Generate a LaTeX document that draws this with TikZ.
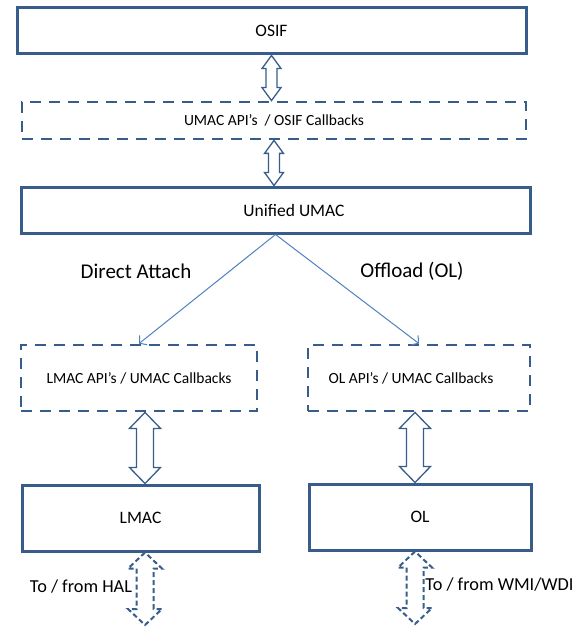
\documentclass[tikz,border=0pt]{standalone}
\usepackage{fontspec}
\setmainfont{Carlito}
\usepackage{tikz}
\usetikzlibrary{positioning,arrows.meta,calc}
\definecolor{boxblue}{RGB}{56,93,138}
\definecolor{linkblue}{RGB}{79,129,189}
\tikzset{>={Straight Barb[length=5pt,width=12pt]}}
\tikzset{layer/.style={draw=boxblue, line width=3pt, inner sep=0pt,
			font=\fontsize{17.5}{20}\selectfont}}
\tikzset{iface/.style={draw=boxblue, line width=2.8pt, inner sep=0pt,
			dash pattern=on 11pt off 8pt, font=\fontsize{15.5}{18}\selectfont}}
\tikzset{pipe/.style={draw=boxblue, line width=1.3pt, fill=white}}
\tikzset{wire/.style={draw=boxblue, line width=2pt, dash pattern=on 5pt off 3pt}}
% top tip, bottom tip, half shaft, half head, head length
\newcommand{\dblarrow}[6][pipe]{%
	\draw[#1] (#2) -- ++(-#5,#6) -- ++(#5-#4,0) -- ($(#3)+(-#4,-#6)$) -- ++(#4-#5,0)
	-- (#3) -- ++(#5,-#6) -- ++(#4-#5,0) -- ($(#2)+(#4,#6)$) -- ++(#5-#4,0) -- cycle;}

\begin{document}
\begin{tikzpicture}[x=1pt,y=-1pt]
		\useasboundingbox (0,0) rectangle (582,639);
		
		\node[layer, minimum width=509pt, minimum height=46pt] (osif) at (271.5,31) {OSIF};
		\node[iface, minimum width=504pt, minimum height=37pt] (umacapi) at (274,120.5) {UMAC API’s~~/ OSIF Callbacks};
		\node[layer, minimum width=509pt, minimum height=46pt] (umac) at (275.5,210) {\hspace*{37pt}Unified UMAC};
		
		\node[iface, minimum width=236pt, minimum height=66pt] (lmacapi) at (139,378) {LMAC API’s / UMAC Callbacks};
		\node[iface, minimum width=222pt, minimum height=66pt] (olapi) at (419,378) {\hspace*{-16pt}OL API’s / UMAC Callbacks};
		\node[layer, minimum width=237pt, minimum height=66pt] (lmac) at (140.5,518) {LMAC};
		\node[layer, minimum width=222pt, minimum height=66pt] (ol) at (420,517) {OL};
		
		\node[font=\fontsize{21}{24}\selectfont] (direct) at (136,271) {Direct Attach};
		\node[font=\fontsize{21}{24}\selectfont] (offload) at (412,271) {Offload (OL)};
		
		\draw[->, linkblue, line width=1pt] (umac.south) -- (lmacapi.north);
		\draw[->, linkblue, line width=1pt] (umac.south) -- (olapi.north);
		
		\dblarrow{osif.south}{osif.south |- umacapi.north}{5.5}{9.5}{13}
		\dblarrow{umacapi.south}{umacapi.south |- umac.north}{5.5}{9.5}{13}
		
		\coordinate (lmacup) at ($(lmacapi.south)+(6,0)$);
		\coordinate (olup) at ($(olapi.south)+(-4,0)$);
		\dblarrow{lmacup}{lmacup |- lmac.north}{8.5}{15.5}{16}
		\dblarrow{olup}{olup |- ol.north}{8.5}{15.5}{16}
		
		\coordinate (lmacdown) at ($(lmac.south)+(4.5,0)$);
		\coordinate (oldown) at ($(ol.south)+(-5,0)$);
		\coordinate (hal) at (145,625);
		\coordinate (wmi) at (415,624);
		\dblarrow[wire]{lmacdown}{hal}{8.5}{17}{16}
		\dblarrow[wire]{oldown}{wmi}{8.5}{17}{16}
		
		\node[font=\fontsize{18.3}{21}\selectfont] (tohal) at (81,587) {To / from HAL};
		\node[font=\fontsize{18.3}{21}\selectfont] (towmi) at (499.5,585) {To / from WMI/WDI};
		
		%		\draw[very thin,color=gray] (0,0) grid[step=50] (582,639);
	\end{tikzpicture}
\end{document}
